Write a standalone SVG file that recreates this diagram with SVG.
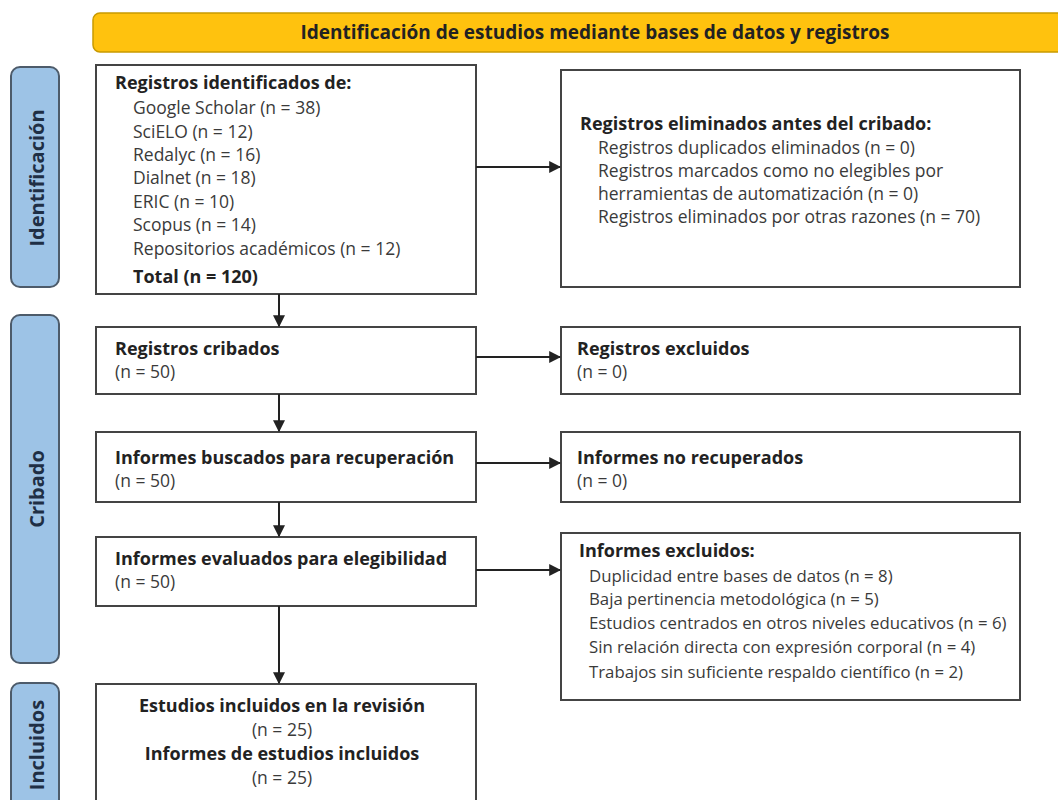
<svg xmlns="http://www.w3.org/2000/svg" width="1058" height="800" viewBox="0 0 1058 800">
<defs>
<style>
text{font-family:"Open Sans","Lato","Liberation Sans",sans-serif;font-size:17.5px;fill:#3a3a3a}
.b{font-weight:bold;fill:#222;font-size:18px}
.s{font-size:16.8px}
.box{fill:#fff;stroke:#444;stroke-width:2}
.side{fill:#9DC3E6;stroke:#4d5b6a;stroke-width:2}
.st{font-weight:bold;fill:#1f2f45;font-size:20px}
.hdr{fill:#FFC20E;stroke:#c99a00;stroke-width:1.5}
.h{font-size:19px}
.c{text-anchor:middle}
.ln{stroke:#222;stroke-width:2;fill:none;marker-end:url(#ah)}
</style>
<marker id="ah" viewBox="0 0 10 10" refX="9" refY="5" markerWidth="6" markerHeight="6" orient="auto" markerUnits="strokeWidth">
<path d="M0,0 L10,5 L0,10 z" fill="#222"/>
</marker>
</defs>
<rect width="1058" height="800" fill="#fff"/>

<g id="header">
<rect class="hdr" x="93" y="13" width="980" height="39" rx="7"/>
<text class="b h c" x="595" y="39">Identificación de estudios mediante bases de datos y registros</text>
</g>

<g id="lbl-identificacion">
<rect class="side" x="11" y="67" width="48" height="220" rx="9"/>
<text class="st c" transform="translate(44,178) rotate(-90)">Identificación</text>
</g>
<g id="lbl-cribado">
<rect class="side" x="11" y="315" width="48" height="348" rx="9"/>
<text class="st c" transform="translate(44,489) rotate(-90)">Cribado</text>
</g>
<g id="lbl-incluidos">
<rect class="side" x="11" y="683" width="48" height="130" rx="9"/>
<text class="st c" transform="translate(44,745) rotate(-90)">Incluidos</text>
</g>

<g id="n-identificados">
<rect class="box" x="96" y="65" width="380" height="229"/>
<text class="b" x="115" y="89">Registros identificados de:</text>
<text x="133" y="114">Google Scholar (n = 38)</text>
<text x="133" y="137.5">SciELO (n = 12)</text>
<text x="133" y="161">Redalyc (n = 16)</text>
<text x="133" y="184">Dialnet (n = 18)</text>
<text x="133" y="208">ERIC (n = 10)</text>
<text x="133" y="231">Scopus (n = 14)</text>
<text x="133" y="255">Repositorios académicos (n = 12)</text>
<text class="b" x="133" y="283">Total (n = 120)</text>
</g>

<g id="n-eliminados">
<rect class="box" x="561" y="70" width="459" height="217"/>
<text class="b" x="580" y="130">Registros eliminados antes del cribado:</text>
<text x="598" y="154">Registros duplicados eliminados (n = 0)</text>
<text x="598" y="177">Registros marcados como no elegibles por</text>
<text x="598" y="200">herramientas de automatización (n = 0)</text>
<text x="598" y="223">Registros eliminados por otras razones (n = 70)</text>
</g>

<g id="n-cribados">
<rect class="box" x="96" y="327" width="380" height="67"/>
<text class="b" x="115" y="355">Registros cribados</text>
<text x="115" y="378">(n = 50)</text>
</g>

<g id="n-excluidos">
<rect class="box" x="561" y="327" width="459" height="67"/>
<text class="b" x="577" y="355">Registros excluidos</text>
<text x="577" y="378">(n = 0)</text>
</g>

<g id="n-buscados">
<rect class="box" x="96" y="432" width="380" height="70"/>
<text class="b" x="115" y="464">Informes buscados para recuperación</text>
<text x="115" y="487">(n = 50)</text>
</g>

<g id="n-norecuperados">
<rect class="box" x="561" y="432" width="459" height="70"/>
<text class="b" x="577" y="464">Informes no recuperados</text>
<text x="577" y="487">(n = 0)</text>
</g>

<g id="n-evaluados">
<rect class="box" x="96" y="537" width="380" height="69"/>
<text class="b" x="115" y="565">Informes evaluados para elegibilidad</text>
<text x="115" y="588">(n = 50)</text>
</g>

<g id="n-infexcluidos">
<rect class="box" x="561" y="533" width="459" height="167"/>
<text class="b" x="579" y="557">Informes excluidos:</text>
<text class="s" x="589" y="582">Duplicidad entre bases de datos (n = 8)</text>
<text class="s" x="589" y="605">Baja pertinencia metodológica (n = 5)</text>
<text class="s" x="589" y="629">Estudios centrados en otros niveles educativos (n = 6)</text>
<text class="s" x="589" y="653">Sin relación directa con expresión corporal (n = 4)</text>
<text class="s" x="589" y="678">Trabajos sin suficiente respaldo científico (n = 2)</text>
</g>

<g id="n-incluidos">
<rect class="box" x="96" y="684" width="380" height="130"/>
<text class="b c" x="282" y="712">Estudios incluidos en la revisión</text>
<text class="c" x="282" y="736">(n = 25)</text>
<text class="b c" x="282" y="760">Informes de estudios incluidos</text>
<text class="c" x="282" y="784">(n = 25)</text>
</g>

<g id="connectors">
<line class="ln" x1="279" y1="294" x2="279" y2="326"/>
<line class="ln" x1="279" y1="394" x2="279" y2="431"/>
<line class="ln" x1="279" y1="502" x2="279" y2="536"/>
<line class="ln" x1="279" y1="606" x2="279" y2="683"/>
<line class="ln" x1="476" y1="167" x2="560" y2="167"/>
<line class="ln" x1="476" y1="357" x2="560" y2="357"/>
<line class="ln" x1="476" y1="463" x2="560" y2="463"/>
<line class="ln" x1="476" y1="570" x2="560" y2="570"/>
</g>
</svg>
